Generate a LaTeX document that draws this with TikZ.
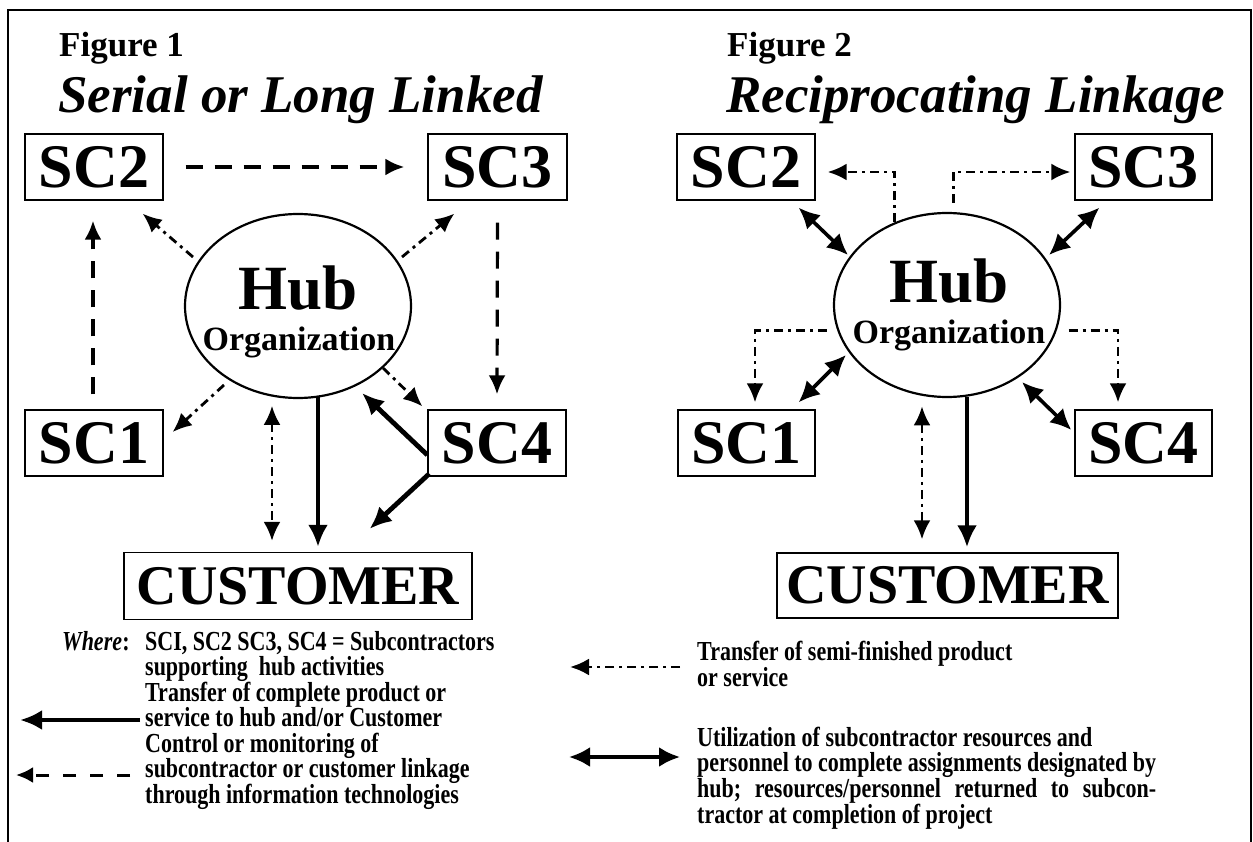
\documentclass[tikz,border=0pt]{standalone}
\usepackage{fontspec}
\setmainfont{Liberation Serif}
\newfontfamily\legfont{Liberation Serif}[FakeStretch=0.8]
\usepackage{calc}
\usetikzlibrary{arrows.meta,shapes.geometric,calc}

\begin{document}
\begin{tikzpicture}[x=1pt,y=-1pt,
  scbox/.style={draw, line width=1.3pt, minimum width=138pt, minimum height=66pt,
    inner sep=0pt, font=\bfseries\fontsize{62}{62}\selectfont},
  custbox/.style={draw, line width=1.3pt, minimum height=66pt, inner sep=0pt,
    font=\bfseries\fontsize{56}{56}\selectfont},
  hubnode/.style={draw, ellipse, line width=2.2pt, minimum width=226pt,
    minimum height=184pt, inner sep=0pt},
  hubtext/.style={anchor=base, inner sep=0pt, font=\bfseries\fontsize{63}{63}\selectfont},
  orgtext/.style={anchor=base, inner sep=0pt, font=\bfseries\fontsize{34}{34}\selectfont},
  figlabel/.style={anchor=base west, inner sep=0pt, font=\bfseries\fontsize{35}{35}\selectfont},
  figtitle/.style={anchor=base west, inner sep=0pt, font=\bfseries\itshape\fontsize{53}{53}\selectfont},
  legtext/.style={anchor=base west, inner sep=0pt, font=\legfont\bfseries\fontsize{27.5}{26}\selectfont},
  solidarr/.style={line width=4.8pt, -{Latex[length=22pt,width=20pt]}},
  dasharr/.style={line width=3.2pt, dash pattern=on 17pt off 12pt, -{Latex[length=19pt,width=17pt]}},
  dotarr/.style={line width=2.8pt, dash pattern=on 9pt off 5pt on 3pt off 5pt, -{Latex[length=19pt,width=17pt]}},
  dotdbl/.style={line width=2.8pt, dash pattern=on 9pt off 5pt on 3pt off 5pt, {Latex[length=19pt,width=17pt]}-{Latex[length=19pt,width=17pt]}},
  dblarr/.style={line width=3.6pt, {Latex[length=21pt,width=20pt]}-{Latex[length=21pt,width=20pt]}},
]
\useasboundingbox (0,0) rectangle (1253,842);

% frame
\draw[line width=1.6pt] (8,842) -- (8,10) -- (1251,10) -- (1251,842);

% ---------- Figure 1 ----------
\node[figlabel] (f1) at (59,57) {Figure 1};
\node[figtitle] (t1) at (58,113) {Serial or Long Linked};

\node[scbox] (A2) at (94,167) {SC2};
\node[scbox, minimum width=139pt] (A3) at (497.5,167) {SC3};
\node[scbox] (A1) at (94,443) {SC1};
\node[scbox] (A4) at (497,443) {SC4};
\node[custbox, minimum width=348pt, minimum height=67pt] (AC) at (298,586) {CUSTOMER};
\node[hubnode] (AH) at (298,306) {};
\node[hubtext] (AHh) at ($(AH.center)+(0,3)$) {Hub};
\node[orgtext] (AHo) at ($(AH.center)+(1,45)$) {Organization};

% control / monitoring links
\draw[dasharr] ($(A2.east)+(22,0)$) -- ($(A3.west)+(-23,0)$);
\draw[dasharr] ($(A1.north)+(-1,-15)$) -- ($(A2.south)+(-1,20)$);
\draw[dasharr] ($(A3.south)+(0,22)$) -- ($(A4.north)+(0,-15)$);
% semi-finished transfers from the hub
\draw[dotarr] ($(AH.center)+(-105,-49)$) -- ($(A2.south east)+(-21,13)$);
\draw[dotarr] ($(AH.center)+(104,-49)$) -- ($(A3.south west)+(27,13)$);
\draw[dotarr] ($(AH.center)+(-74,79)$) -- ($(A1.east)+(9,-11)$);
\draw[dotarr] ($(AH.center)+(85,62)$) -- ($(A4.north west)+(-5,-3)$);
\draw[dotdbl] ($(AC.north)+(-26,-146)$) -- ($(AC.north)+(-26,-11)$);
% complete product transfers
\draw[solidarr] ($(AC.north)+(20,-155)$) -- ($(AC.north)+(20,-5)$);
\draw[solidarr] ($(A4.west)+(0,12)$) -- ($(AH.center)+(64,87)$);
\draw[solidarr] ($(A4.south west)+(2,-3)$) -- ($(AC.north east)+(-103,-23)$);

% ---------- Figure 2 ----------
\node[figlabel] (f2) at (727,57) {Figure 2};
\node[figtitle] (t2) at (726,113) {Reciprocating Linkage};

\node[scbox] (B2) at (746,167) {SC2};
\node[scbox, minimum width=137pt] (B3) at (1143.5,167) {SC3};
\node[scbox, minimum width=137pt] (B1) at (746.5,443) {SC1};
\node[scbox, minimum width=137pt] (B4) at (1143.5,443) {SC4};
\node[custbox, minimum width=341pt, minimum height=65pt] (BC) at (947.5,585.5) {CUSTOMER};
\node[hubnode] (BH) at (947,305) {};
\node[hubtext] (BHh) at ($(BH.center)+(2,-2)$) {Hub};
\node[orgtext] (BHo) at ($(BH.center)+(2,38)$) {Organization};

% semi-finished transfers (elbow routes)
\draw[dotarr] ($(B2.east)+(79,55)$) |- ($(B2.east)+(12,5)$);
\draw[dotarr] ($(B3.west)+(-121,36)$) |- ($(B3.west)+(-4,5)$);
\draw[dotarr] ($(B1.north)+(80,-79)$) -| ($(B1.north)+(8.5,-7)$);
\draw[dotarr] ($(B4.north)+(-75,-79)$) -| ($(B4.north)+(-25.5,-7)$);
\draw[dotdbl] ($(BC.north)+(-25.5,-146)$) -- ($(BC.north)+(-25.5,-13)$);
% resource exchange
\draw[dblarr] ($(B2.south east)+(-17,7)$) -- ($(BH.center)+(-99,-50)$);
\draw[dblarr] ($(B3.south west)+(25,7)$) -- ($(BH.center)+(102,-50)$);
\draw[dblarr] ($(B1.north east)+(-17,-7)$) -- ($(BH.center)+(-101,50)$);
\draw[dblarr] ($(B4.west)+(-3,-13)$) -- ($(BH.center)+(75,77)$);
% complete product transfer
\draw[solidarr] ($(BC.north)+(19.5,-155)$) -- ($(BC.north)+(19.5,-5)$);

% ---------- Legend ----------
\node[legtext, font=\legfont\bfseries\itshape\fontsize{27.5}{26}\selectfont] (w) at (62,650) {Where};
\node[legtext] (wc) at (w.base east) {:};
\node[legtext] (l1) at (145,650) {SCI, SC2 SC3, SC4 = Subcontractors};
\node[legtext] (l2) at (145,675.5) {supporting\ \ hub activities};
\node[legtext] (l3) at (145,701) {Transfer of complete product or};
\node[legtext] (l4) at (145,726.5) {service to hub and/or Customer};
\node[legtext] (l5) at (145,752) {Control or monitoring of};
\node[legtext] (l6) at (145,777.5) {subcontractor or customer linkage};
\node[legtext] (l7) at (145,803) {through information technologies};

\node[legtext] (r1) at (697,660) {Transfer of semi-finished product};
\node[legtext] (r2) at (697,686) {or service};
\node[legtext] (r3) at (697,746) {Utilization of subcontractor resources and};
\node[legtext] (r4) at (697,771.5) {personnel to complete assignments designated by};
\node[legtext] (r5) at (697,797)
  {\makebox[\widthof{personnel to complete assignments designated by}][s]{hub;\ resources/personnel\ returned\ to\ subcon-}};
\node[legtext] (r6) at (697,823) {tractor at completion of project};

\coordinate (ks1) at (140,720);
\coordinate (ke1) at (20,720);
\coordinate (ks2) at (130,775);
\coordinate (ke2) at (16,775);
\coordinate (ks3) at (680,667);
\coordinate (ke3) at (570,667);
\coordinate (ks4) at (569,757);
\coordinate (ke4) at (680,757);
\draw[solidarr] (ks1) -- (ke1);
\draw[line width=3pt, dash pattern=on 13pt off 14pt, -{Latex[length=17pt,width=16pt]}] (ks2) -- (ke2);
\draw[dotarr] (ks3) -- (ke3);
\draw[dblarr] (ks4) -- (ke4);
\end{tikzpicture}
\end{document}
